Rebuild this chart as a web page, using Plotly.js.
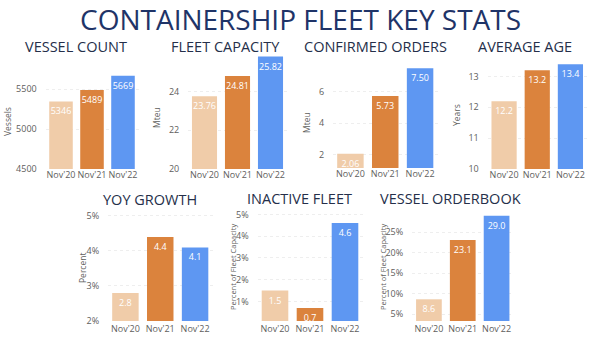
<!DOCTYPE html>
<html>
<head>
<meta charset="utf-8">
<script src="https://cdn.plot.ly/plotly-3.0.1.min.js"></script>
<style>html,body{margin:0;padding:0;background:#fff;}#chart{width:600px;height:338px;}</style>
</head>
<body>
<div id="chart"></div>
<script>
const categories = ["Nov'20", "Nov'21", "Nov'22"];
const vesselCount = [5346, 5489, 5669];
const fleetCapacity = [23.76, 24.81, 25.82];
const confirmedOrders = [2.06, 5.73, 7.50];
const averageAge = [12.2, 13.2, 13.4];
const yoyGrowth = [2.8, 4.4, 4.1];
const inactiveFleet = [1.5, 0.7, 4.6];
const vesselOrderbook = [8.6, 23.1, 29.0];
const barColors = ['#F0CCA9', '#DB833D', '#5E97F2'];

const mainTitle = 'CONTAINERSHIP FLEET KEY STATS';

const W = 600, H = 338;
const FONT = 'Open Sans, Noto Sans, sans-serif';

const panels = [
  {title: 'VESSEL COUNT', ytitle: 'Vessels', values: vesselCount, fmt: '%{y:.0f}', suffix: '',
   x0: 45.5, x1: 138.5, yTop: 62, yBot: 169, range: [4500, 5840], tickvals: [4500, 5000, 5500],
   tx: 76, ty: 47, ax: 7, ay: 122, ys: 8.5},
  {title: 'FLEET CAPACITY', ytitle: 'Mteu', values: fleetCapacity, fmt: '%{y:.2f}', suffix: '',
   x0: 188, x1: 287, yTop: 54, yBot: 169, range: [20, 25.95], tickvals: [20, 22, 24],
   tx: 225, ty: 47, ax: 156, ay: 118, ys: 8.5},
  {title: 'CONFIRMED ORDERS', ytitle: 'Mteu', values: confirmedOrders, fmt: '%{y:.2f}', suffix: '',
   x0: 333, x1: 437.5, yTop: 62, yBot: 168, range: [1.15, 7.9], tickvals: [2, 4, 6],
   tx: 375, ty: 47, ax: 307, ay: 123, ys: 8.5},
  {title: 'AVERAGE AGE', ytitle: 'Years', values: averageAge, fmt: '%{y:.1f}', suffix: '',
   x0: 487.5, x1: 587, yTop: 62, yBot: 169, range: [10, 13.47], tickvals: [10, 11, 12, 13],
   tx: 525, ty: 47, ax: 456, ay: 115, ys: 8.5},
  {title: 'YOY GROWTH', ytitle: 'Percent', values: yoyGrowth, fmt: '%{y:.1f}', suffix: '%',
   x0: 108, x1: 212.5, yTop: 210, yBot: 321, range: [2, 5.17], tickvals: [2, 3, 4, 5],
   tx: 150, ty: 199, ax: 82, ay: 268, ys: 8.5},
  {title: 'INACTIVE FLEET', ytitle: 'Percent of Fleet Capacity', values: inactiveFleet, fmt: '%{y:.1f}', suffix: '%',
   x0: 257.5, x1: 362.5, yTop: 210, yBot: 321, range: [0.1, 5.2], tickvals: [1, 2, 3, 4, 5],
   tx: 299, ty: 198, ax: 233, ay: 267, ys: 7.5},
  {title: 'VESSEL ORDERBOOK', ytitle: 'Percent of Fleet Capacity', values: vesselOrderbook, fmt: '%{y:.1f}', suffix: '%',
   x0: 412, x1: 513.5, yTop: 210, yBot: 321, range: [3.3, 30.4], tickvals: [5, 10, 15, 20, 25],
   tx: 450, ty: 198, ax: 383, ay: 267, ys: 7.5}
];

const data = [];
const layout = {
  width: W, height: H,
  margin: {l: 0, r: 0, t: 0, b: 0},
  paper_bgcolor: '#ffffff', plot_bgcolor: '#ffffff',
  showlegend: false,
  bargap: 0.24,
  font: {family: FONT, color: '#605E5C'},
  annotations: [{
    text: mainTitle, xref: 'paper', yref: 'paper', x: 300 / W, y: 1 - 19 / H,
    xanchor: 'center', yanchor: 'middle', showarrow: false,
    font: {family: FONT, size: 28, color: '#1F3468'}
  }]
};

panels.forEach((p, i) => {
  const n = i + 1;
  const xa = n === 1 ? 'x' : 'x' + n;
  const ya = n === 1 ? 'y' : 'y' + n;
  data.push({
    type: 'bar', x: categories, y: p.values, xaxis: xa, yaxis: ya,
    marker: {color: barColors},
    texttemplate: p.fmt, textposition: 'inside', insidetextanchor: 'end',
    constraintext: 'none', textangle: 0,
    textfont: {family: FONT, size: 9, color: '#ffffff'},
    hoverinfo: 'none'
  });
  layout[n === 1 ? 'xaxis' : 'xaxis' + n] = {
    domain: [p.x0 / W, p.x1 / W], anchor: ya, fixedrange: true,
    showgrid: false, zeroline: false, showline: false, ticks: '',
    tickangle: 0, ticklabelstandoff: n <= 4 ? -1 : 1,
    tickfont: {family: FONT, size: 9, color: '#605E5C'}
  };
  layout[n === 1 ? 'yaxis' : 'yaxis' + n] = {
    domain: [1 - p.yBot / H, 1 - p.yTop / H], anchor: xa, fixedrange: true,
    range: p.range, tickmode: 'array', tickvals: p.tickvals,
    ticktext: p.tickvals.map(v => String(v) + p.suffix),
    showgrid: true, gridcolor: '#EEEEEE', griddash: 'dot', gridwidth: 1,
    zeroline: false, showline: false,
    ticks: 'outside', ticklen: 6, tickcolor: 'rgba(0,0,0,0)',
    tickfont: {family: FONT, size: 9, color: '#605E5C'}
  };
  layout.annotations.push({
    text: p.title, xref: 'paper', yref: 'paper', x: p.tx / W, y: 1 - p.ty / H,
    xanchor: 'center', yanchor: 'middle', showarrow: false,
    font: {family: FONT, size: 14.5, color: '#252F4A'}
  });
  layout.annotations.push({
    text: p.ytitle, xref: 'paper', yref: 'paper', x: p.ax / W, y: 1 - p.ay / H,
    xanchor: 'center', yanchor: 'middle', showarrow: false, textangle: -90,
    font: {family: FONT, size: p.ys, color: '#605E5C'}
  });
});

Plotly.newPlot('chart', data, layout, {displayModeBar: false, staticPlot: true});
</script>
</body>
</html>
